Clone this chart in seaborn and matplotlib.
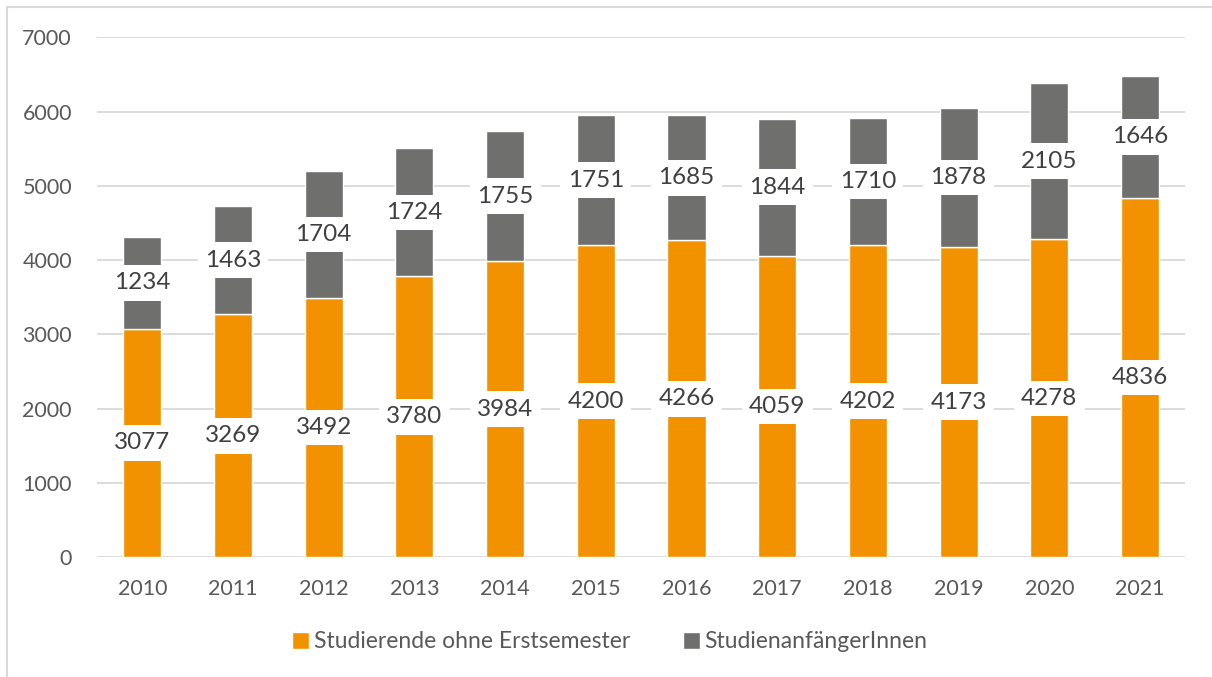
import pandas as pd
import matplotlib
matplotlib.use("Agg")
import matplotlib.pyplot as plt
import seaborn as sns
from matplotlib.patches import Rectangle

jahre = ["2010", "2011", "2012", "2013", "2014", "2015",
         "2016", "2017", "2018", "2019", "2020", "2021"]
ohne_erstsemester = [3077, 3269, 3492, 3780, 3984, 4200, 4266, 4059, 4202, 4173, 4278, 4836]
anfaenger = [1234, 1463, 1704, 1724, 1755, 1751, 1685, 1844, 1710, 1878, 2105, 1646]

serie1 = "Studierende ohne Erstsemester"
serie2 = "StudienanfängerInnen"

df = pd.DataFrame({"Jahr": jahre, serie1: ohne_erstsemester, serie2: anfaenger})

sns.set_style("white")
plt.rcParams["font.family"] = ["Lato", "DejaVu Sans"]

orange = "#F39200"
grau = "#6F6F6E"
textfarbe = "#595959"

fig = plt.figure(figsize=(12.12, 6.77), dpi=100)
ax = fig.add_axes([0.080, 0.177, 0.898, 0.768])

sns.barplot(data=df, x="Jahr", y=serie1, color=orange, width=0.42,
            saturation=1, ax=ax, label=serie1, zorder=2)
sns.barplot(data=df, x="Jahr", y=serie2, color=grau, width=0.42,
            saturation=1, ax=ax, label=serie2, bottom=df[serie1], zorder=2)

# weisse Kaesten hinter den Werten, wie im Excel-Original
box = dict(boxstyle="square,pad=0.3", fc="white", ec="none")
for cont in ax.containers:
    ax.bar_label(cont, label_type="center", fontsize=17.5, color="#404040",
                 bbox=box, zorder=5)

ax.set_ylim(0, 7000)
ax.set_yticks(range(0, 7001, 1000))
ax.set_xlim(-0.5, len(jahre) - 0.5)
ax.yaxis.grid(True, color="#D9D9D9", linewidth=1.3, zorder=0)
ax.set_axisbelow(True)
for s in ax.spines.values():
    s.set_visible(False)
ax.set_xlabel("")
ax.set_ylabel("")
ax.tick_params(axis="both", length=0, labelsize=15.5, labelcolor=textfarbe)
ax.tick_params(axis="y", pad=18)
ax.tick_params(axis="x", pad=16)

if ax.legend_:
    ax.legend_.remove()
handles, labels = ax.get_legend_handles_labels()
fig.legend(handles, labels, loc="center", bbox_to_anchor=(0.503, 0.052), ncol=2,
           frameon=False, fontsize=16.5, labelcolor=textfarbe, handlelength=0.75,
           handleheight=0.75, handletextpad=0.2, columnspacing=2.3)

fig.patches.append(Rectangle((7 / 1212, -0.5), 1.2, 1.5 - 7 / 677,
                             transform=fig.transFigure, fill=False,
                             ec="#D9D9D9", lw=1.5))

fig.savefig("out.png", dpi=100)
